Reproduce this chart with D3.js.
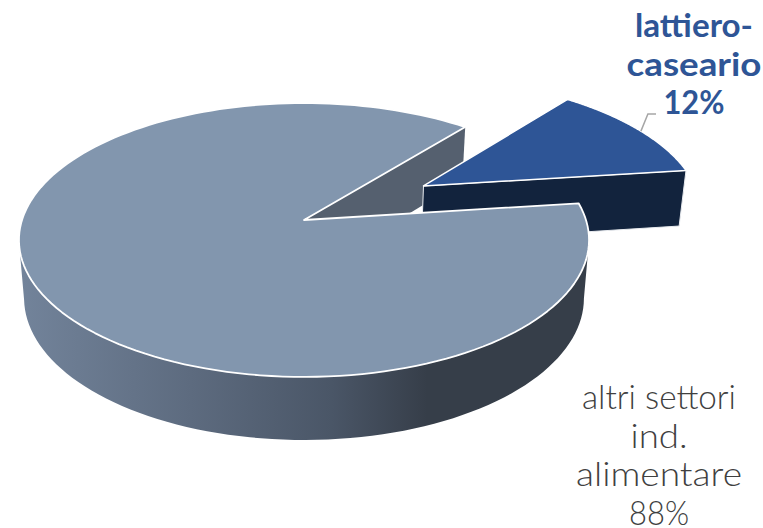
<!DOCTYPE html>
<html lang="en">
<head>
  <meta charset="UTF-8">
  <script src="https://d3js.org/d3.v7.min.js"></script>
  <title>Pie 3D</title>
  <style>
    html, body { margin: 0; padding: 0; background: #fff; overflow: hidden; }
    text { font-family: Lato, "Open Sans", sans-serif; text-anchor: middle; }
  </style>
</head>
<body>
  <svg width="763" height="528"></svg>
  <script>
    // data
    var categories = ["lattiero-caseario", "altri settori ind. alimentare"];
    var values = [12, 88];
    var labelLines = [["lattiero-", "caseario"], ["altri settori", "ind.", "alimentare"]];

    var svg = d3.select("svg");

    // perspective of the disc: unit circle -> screen
    var cx = 304, cy = 220, a = 282, b = 134, p = 0.146;
    function project(X, Y) {
      var s = 1 / (1 - p * Y);
      return [cx + a * X * s, cy + b * Y * s];
    }
    // the same point on the underside of the pie
    function lower(pt) {
      return [cx + (pt[0] - cx) * 0.982, pt[1] + 54 + (pt[1] - 125) * 0.036];
    }
    // d3 pie angles run clockwise from 12 o'clock
    function onDisc(angle, r, off) {
      return project(off[0] + r * Math.sin(angle), off[1] - r * Math.cos(angle));
    }
    function arcPoints(d, off) {
      var n = 160;
      return d3.range(n + 1).map(function(i) {
        return onDisc(d.startAngle + (d.endAngle - d.startAngle) * i / n, 1, off);
      });
    }

    var pie = d3.pie().sort(null).startAngle(39.5 * Math.PI / 180).endAngle(399.5 * Math.PI / 180);
    var slices = pie(values);
    var blue = slices[0], main = slices[1];

    var mid = (blue.startAngle + blue.endAngle) / 2;
    var explode = 0.505;
    var blueOff = [explode * Math.sin(mid) - 0.002, -explode * Math.cos(mid) - 0.02];
    var noOff = [0, 0];

    var line = d3.line();
    function closed(pts) { return line(pts) + "Z"; }

    var defs = svg.append("defs");
    var grad = defs.append("linearGradient").attr("id", "side")
      .attr("gradientUnits", "userSpaceOnUse")
      .attr("x1", 22).attr("x2", 585).attr("y1", 0).attr("y2", 0);
    grad.append("stop").attr("offset", "0").attr("stop-color", "#72839a");
    grad.append("stop").attr("offset", "0.3").attr("stop-color", "#5d6b7f");
    grad.append("stop").attr("offset", "0.55").attr("stop-color", "#4a5667");
    grad.append("stop").attr("offset", "0.72").attr("stop-color", "#363e49");
    grad.append("stop").attr("offset", "1").attr("stop-color", "#363e49");

    var mainArc = arcPoints(main, noOff);
    var blueArc = arcPoints(blue, blueOff);
    var mainTip = project(0, 0);
    var blueTip = project(blueOff[0], blueOff[1]);

    // cut wall of the big slice seen through the gap
    var wallEnd = mainArc[mainArc.length - 1];
    svg.append("path")
      .attr("d", closed([mainTip, wallEnd, lower(wallEnd), lower(mainTip)]))
      .attr("fill", "#55606f");

    // exploded slice: front cut face, then top
    var blueEnd = blueArc[blueArc.length - 1];
    svg.append("path")
      .attr("d", closed([blueTip, blueEnd, lower(blueEnd), lower(blueTip)]))
      .attr("fill", "#12233d")
      .attr("stroke", "#e8ebef").attr("stroke-width", 1);
    svg.append("path")
      .attr("d", closed([blueTip].concat(blueArc)))
      .attr("fill", "#2e5596")
      .attr("stroke", "#fff").attr("stroke-width", 1.5).attr("stroke-linejoin", "round");

    // side of the big slice, only the part facing the viewer
    var front = mainArc.filter(function(pt) { return pt[1] >= 240; });
    svg.append("path")
      .attr("d", closed(front.concat(front.map(lower).reverse())))
      .attr("fill", "url(#side)");

    // top of the big slice
    svg.append("path")
      .attr("d", closed([mainTip].concat(mainArc)))
      .attr("fill", "#8296ae")
      .attr("stroke", "#fff").attr("stroke-width", 1.8).attr("stroke-linejoin", "round");

    // leader line
    var leaderStart = onDisc(blue.startAngle + (blue.endAngle - blue.startAngle) * 0.52, 1, blueOff);
    svg.append("path")
      .attr("d", line([leaderStart, [leaderStart[0] + 7, 114], [656, 114]]))
      .attr("fill", "none").attr("stroke", "#a6a6a6").attr("stroke-width", 1.5);

    // labels, stretched a little because the original face is wider than Lato
    var fmt = function(v) { return v + "%"; };
    function drawLabel(lines, widths, x, y0, dy, size, weight, color) {
      svg.append("g").selectAll("text").data(lines).enter().append("text")
        .attr("x", x)
        .attr("y", function(d, i) { return y0 + i * dy; })
        .attr("font-size", size)
        .attr("font-weight", weight)
        .attr("fill", color)
        .attr("textLength", function(d, i) { return widths[i]; })
        .attr("lengthAdjust", "spacingAndGlyphs")
        .text(function(d) { return d; });
    }
    drawLabel(labelLines[0].concat(fmt(values[0])), [118, 135, 61], 694, 37, 38.5, 33, 700, "#2e5596");
    drawLabel(labelLines[1].concat(fmt(values[1])), [154, 57, 166, 60], 659, 409, 38.7, 33, 300, "#404040");
  </script>
</body>
</html>
